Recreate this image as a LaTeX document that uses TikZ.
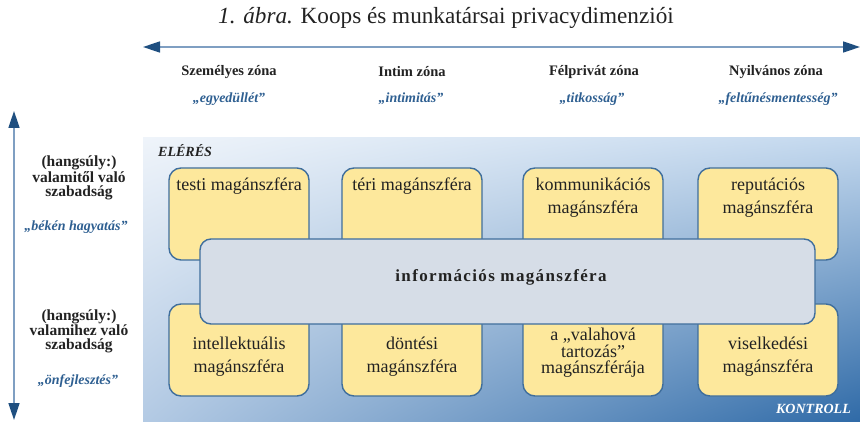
\documentclass[tikz,border=0pt]{standalone}
\usepackage{fontspec}
\setmainfont{Liberation Serif}
\usetikzlibrary{arrows.meta,shadings}
\definecolor{bgA}{HTML}{EFF4FA}
\definecolor{bgB}{HTML}{C3D8EE}
\definecolor{bgC}{HTML}{B3CAE4}
\definecolor{bgD}{HTML}{2F6AA7}
\definecolor{yel}{HTML}{FDE89C}
\definecolor{gry}{HTML}{D6DDE7}
\definecolor{bord}{HTML}{3F6E9C}
\definecolor{qblue}{HTML}{2E5F91}
\definecolor{arrline}{HTML}{7F9FC2}
\definecolor{arrhead}{HTML}{1F4F80}
\definecolor{txt}{HTML}{222222}
\tikzset{
  ybox/.style={draw=bord, fill=yel, rounded corners=12pt, line width=1.4pt, minimum width=140pt, minimum height=92pt, inner sep=0pt},
  gbox/.style={draw=bord, fill=gry, rounded corners=11pt, line width=1.4pt, minimum width=615pt, minimum height=85pt, inner sep=0pt},
  btxt/.style={align=center, font=\fontsize{18}{23}\selectfont, text=txt, inner sep=0pt},
  zone/.style={font=\fontsize{14.5}{16}\selectfont\bfseries, text=txt, inner sep=0pt},
  quote/.style={font=\fontsize{14}{16}\selectfont\bfseries\itshape, text=qblue, inner sep=0pt},
  side/.style={align=center, font=\fontsize{15.5}{14}\selectfont\bfseries, text=txt, inner sep=0pt},
  corner/.style={font=\fontsize{14}{16}\selectfont\bfseries\itshape, inner sep=0pt},
  axis/.style={line width=1.6pt, draw=arrline, {Triangle[length=17pt,width=11pt,color=arrhead]}-{Triangle[length=17pt,width=11pt,color=arrhead]}}
}
\begin{document}
\begin{tikzpicture}[x=1pt,y=-1pt]
\useasboundingbox (0,0) rectangle (860,422);
% background gradient
\shade[upper left=bgA, upper right=bgB, lower left=bgC, lower right=bgD] (143,138) rectangle (860,422);
% title
\node[font=\fontsize{23.2}{26}\selectfont, text=txt, inner sep=0pt] (title) at (446,18) {\textit{1. ábra.} Koops és munkatársai privacydimenziói};
% axes
\coordinate (hl) at (143,47);
\coordinate (hr) at (860,47);
\draw[axis] (hl) -- (hr);
\coordinate (vt) at (14,111);
\coordinate (vb) at (14,420);
\draw[axis] (vt) -- (vb);
% zone labels
\node[zone] (z1) at (229,72) {Személyes zóna};
\node[zone] (z2) at (412,72) {Intim zóna};
\node[zone] (z3) at (594,72) {Félprivát zóna};
\node[zone] (z4) at (776,72) {Nyilvános zóna};
\node[quote] (q1) at (229,99) {„egyedüllét”};
\node[quote] (q2) at (411,99) {„intimitás”};
\node[quote] (q3) at (592,99) {„titkosság”};
\node[quote] (q4) at (778,99) {„feltűnésmentesség”};
% side labels
\node[side] (s1) at (79,178) {(hangsúly:)\\valamitől való\\szabadság};
\node[quote] (sq1) at (76,227) {„békén hagyatás”};
\node[side] (s2) at (79,331) {(hangsúly:)\\valamihez való\\szabadság};
\node[quote] (sq2) at (78,381) {„önfejlesztés”};
% corner labels
\node[corner, text=txt, anchor=west] (eleres) at (158,151) {ELÉRÉS};
\node[corner, text=white, anchor=east] (kontroll) at (851,409) {KONTROLL};
% yellow boxes
\node[ybox] (b1) at (239,214) {};
\node[ybox] (b2) at (412,214) {};
\node[ybox] (b3) at (593,214) {};
\node[ybox] (b4) at (768,214) {};
\node[ybox] (b5) at (239,350) {};
\node[ybox] (b6) at (412,350) {};
\node[ybox] (b7) at (593,350) {};
\node[ybox] (b8) at (768,350) {};
\node[btxt] (t1) at (239,186) {testi magánszféra};
\node[btxt] (t2) at (412,186) {téri magánszféra};
\node[btxt] (t3) at (593,198) {kommunikációs\\magánszféra};
\node[btxt] (t4) at (768,198) {reputációs\\magánszféra};
\node[btxt] (t5) at (239,357) {intellektuális\\magánszféra};
\node[btxt] (t6) at (412,357) {döntési\\magánszféra};
\node[btxt, font=\fontsize{18}{16.5}\selectfont] (t7) at (593,353) {a „valahová\\tartozás”\\magánszférája};
\node[btxt] (t8) at (768,357) {viselkedési\\magánszféra};
% central box
\node[gbox] (info) at (507.5,281.5) {};
\node[font=\fontsize{17}{19}\selectfont\bfseries\addfontfeature{LetterSpace=8}, text=txt, inner sep=0pt] (infot) at (501,277) {információs magánszféra};
\end{tikzpicture}
\end{document}
